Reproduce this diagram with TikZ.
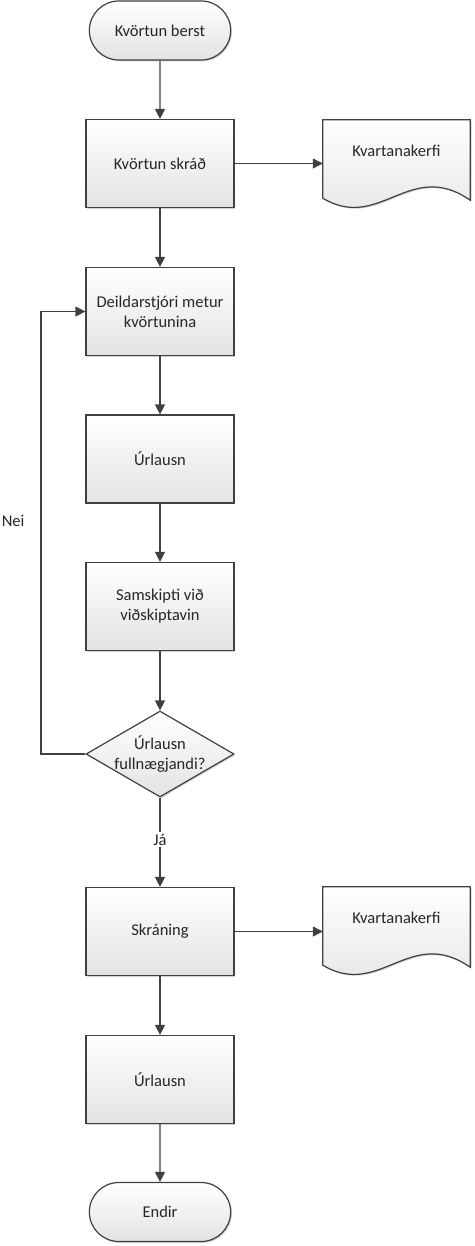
\documentclass[tikz,border=0pt]{standalone}
\usepackage{fontspec}
\setmainfont{Carlito}
\usetikzlibrary{shapes.geometric,shapes.misc,arrows.meta,shadows,calc}
\definecolor{ln}{HTML}{404040}
\definecolor{tx}{HTML}{262626}
\newcommand\docoutline[1]{(#1.north west) -- (#1.north east) -- ($(#1.south east)+(0,-10)$) .. controls ($(#1.south west)+(87,-52)$) and ($(#1.south west)+(57,22)$) .. ($(#1.south west)+(0,-12)$) -- cycle}
\begin{document}
\begin{tikzpicture}[x=1pt,y=-1pt,
  font=\fontsize{16.5}{20}\selectfont,
  shadowed/.style={drop shadow={shadow xshift=1.3pt,shadow yshift=-1.3pt,fill=black!40,opacity=.45}},
  base/.style={draw=ln,line width=1.2pt,top color=white,bottom color=black!11,shadowed,text=tx},
  proc/.style={base,rectangle,minimum width=148pt,minimum height=88pt,inner sep=2pt,align=center},
  term/.style={base,rounded rectangle,minimum width=148pt,minimum height=59pt},
  decis/.style={base,diamond,minimum width=148pt,minimum height=86pt,inner sep=0pt},
  docbox/.style={rectangle,minimum width=147pt,minimum height=90pt,text height=10pt,text depth=27pt,text=tx},
  docline/.style={draw=ln,line width=1.2pt,top color=white,bottom color=black!11,shadowed},
  flow/.style={draw=ln,line width=1.2pt,-{Triangle[length=10pt,width=10pt]}},
  lbl/.style={text=tx,inner sep=2pt}]
\useasboundingbox (0,0) rectangle (474,1246);

% document shapes (drawn first, text on top)
\node[docbox] (doc1) at (396.5,165) {};
\node[docbox] (doc2) at (396.5,932) {};
\draw[docline] \docoutline{doc1};
\draw[docline] \docoutline{doc2};
\node[docbox] (doc1t) at (doc1) {Kvartanakerfi};
\node[docbox] (doc2t) at (doc2) {Kvartanakerfi};

\node[term] (start) at (160,30.5) {Kvörtun berst};
\node[proc] (b1) at (160,163.5) {Kvörtun skráð};
\node[proc] (b2) at (160,311.5) {Deildarstjóri metur\\kvörtunina};
\node[proc] (b3) at (160,459) {Úrlausn};
\node[proc] (b4) at (160,606.5) {Samskipti við\\viðskiptavin};
\node[decis] (dec) at (160,754) {};
\node[align=center,text=tx] (dect) at (dec) {Úrlausn\\fullnægjandi?};
\node[proc] (b5) at (160,931.5) {Skráning};
\node[proc] (b6) at (160,1079.5) {Úrlausn};
\node[term] (end) at (160,1212) {Endir};

\coordinate (lb) at (41,754);
\coordinate (lt) at (41,311.5);

\draw[flow] (start) -- (b1);
\draw[flow] (b1.east) -- (b1.east -| doc1.west);
\draw[flow] (b1) -- (b2);
\draw[flow] (b2) -- (b3);
\draw[flow] (b3) -- (b4);
\draw[flow] (b4) -- (dec);
\draw[flow] (dec) -- node[pos=0.47,fill=white,lbl] {Já} (b5);
\draw[flow] (dec.west) -- (lb) -- node[pos=0.527,left=14pt,lbl] {Nei} (lt) -- (b2.west);
\draw[flow] (b5.east) -- (b5.east -| doc2.west);
\draw[flow] (b5) -- (b6);
\draw[flow] (b6) -- (end);
\end{tikzpicture}
\end{document}
